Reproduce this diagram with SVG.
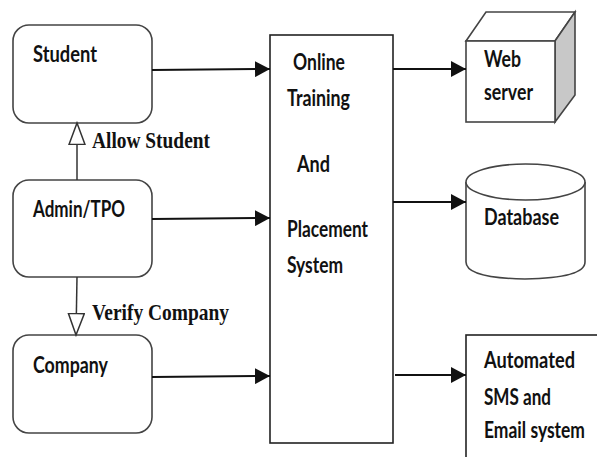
<svg xmlns="http://www.w3.org/2000/svg" width="597" height="457" viewBox="0 0 597 457">
<style>
.box{fill:#fff;stroke:#444;stroke-width:1.6}
.lbl{font-family:Lato,"Liberation Sans",sans-serif;font-weight:bold;font-size:22px;fill:#111}
.ser{font-family:"Liberation Serif",serif;font-weight:bold;font-size:23px;fill:#111}
.conn{stroke:#111;stroke-width:2;fill:none}
.thin{stroke:#333;stroke-width:1.5;fill:none}
</style>
<defs>
<marker id="ah" markerUnits="userSpaceOnUse" markerWidth="16" markerHeight="16" refX="15" refY="8" orient="auto">
<path d="M0,0 L15,8 L0,16 Z" fill="#111"/>
</marker>
<marker id="hollow" markerUnits="userSpaceOnUse" markerWidth="24" markerHeight="20" refX="22" refY="9" orient="auto">
<path d="M0.5,1 L22,9 L0.5,17 Z" fill="#fff" stroke="#333" stroke-width="1.5"/>
</marker>
</defs>
<g id="student"><rect class="box" x="13" y="25" width="139" height="98" rx="16"/><text class="lbl" x="33" y="62" textLength="64" lengthAdjust="spacingAndGlyphs">Student</text></g>
<g id="admin"><rect class="box" x="13" y="180" width="139" height="97" rx="16"/><text class="lbl" x="33" y="217" textLength="92" lengthAdjust="spacingAndGlyphs">Admin/TPO</text></g>
<g id="company"><rect class="box" x="13" y="335" width="139" height="98" rx="16"/><text class="lbl" x="33" y="373" textLength="75" lengthAdjust="spacingAndGlyphs">Company</text></g>
<g id="system"><rect x="270" y="35" width="123" height="408" fill="#fff" stroke="#222" stroke-width="1.6"/>
<text class="lbl" x="293" y="70" textLength="52" lengthAdjust="spacingAndGlyphs">Online</text>
<text class="lbl" x="287" y="106" textLength="63" lengthAdjust="spacingAndGlyphs">Training</text>
<text class="lbl" x="297" y="172" textLength="33" lengthAdjust="spacingAndGlyphs">And</text>
<text class="lbl" x="287" y="237" textLength="81" lengthAdjust="spacingAndGlyphs">Placement</text>
<text class="lbl" x="287" y="273" textLength="56" lengthAdjust="spacingAndGlyphs">System</text></g>
<g id="webserver">
<path d="M466,41 L486,12 L575,12 L555,41 Z" fill="#fff" stroke="#444" stroke-width="1.6"/>
<path d="M555,41 L575,12 L575,95 L555,122 Z" fill="#c8c8c8" stroke="#444" stroke-width="1.6"/>
<rect x="466" y="41" width="89" height="81" fill="#fff" stroke="#444" stroke-width="1.6"/>
<text class="lbl" x="484" y="67" textLength="37" lengthAdjust="spacingAndGlyphs">Web</text>
<text class="lbl" x="484" y="100" textLength="49" lengthAdjust="spacingAndGlyphs">server</text></g>
<g id="database">
<path d="M466,182 L466,262 Q466,278 525,279 Q585,278 585,262 L585,182" fill="#fff" stroke="#444" stroke-width="1.6"/>
<ellipse cx="525.5" cy="182" rx="59.5" ry="18" fill="#fff" stroke="#444" stroke-width="1.6"/>
<text class="lbl" x="484" y="225" textLength="75" lengthAdjust="spacingAndGlyphs">Database</text></g>
<g id="notify">
<rect x="466" y="335" width="140" height="130" fill="#fff" stroke="#222" stroke-width="1.6"/>
<text class="lbl" x="484" y="368" textLength="91" lengthAdjust="spacingAndGlyphs">Automated</text>
<text class="lbl" x="484" y="405" textLength="67" lengthAdjust="spacingAndGlyphs">SMS and</text>
<text class="lbl" x="484" y="438" textLength="101" lengthAdjust="spacingAndGlyphs">Email system</text></g>
<g id="connectors">
<line class="conn" x1="152" y1="70" x2="270" y2="69" marker-end="url(#ah)"/>
<line class="conn" x1="152" y1="219" x2="270" y2="218" marker-end="url(#ah)"/>
<line class="conn" x1="152" y1="377" x2="270" y2="376" marker-end="url(#ah)"/>
<line class="conn" x1="393" y1="69" x2="466" y2="69" marker-end="url(#ah)"/>
<line class="conn" x1="393" y1="202" x2="466" y2="202" marker-end="url(#ah)"/>
<line class="conn" x1="395" y1="375" x2="466" y2="375" marker-end="url(#ah)"/>
<line class="thin" x1="77" y1="180" x2="77" y2="123" marker-end="url(#hollow)"/>
<line class="thin" x1="77" y1="277" x2="76" y2="335" marker-end="url(#hollow)"/>
<text class="ser" x="92" y="148" textLength="118" lengthAdjust="spacingAndGlyphs">Allow Student</text>
<text class="ser" x="92" y="320" textLength="137" lengthAdjust="spacingAndGlyphs">Verify Company</text>
</g>
</svg>
